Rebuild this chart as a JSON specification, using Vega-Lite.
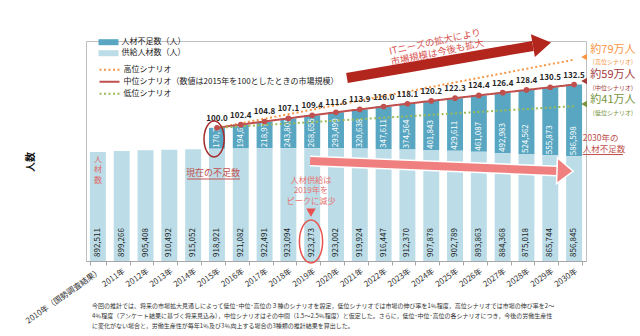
{
  "$schema": "https://vega.github.io/schema/vega-lite/v6.json",
  "width": 500,
  "height": 220,
  "autosize": {"type": "none"},
  "padding": {"left": 86, "top": 41, "right": 54, "bottom": 75},
  "background": "white",
  "title": {
    "text": [
      "今回の推計では、将来の市場拡大見通しによって低位･中位･高位の３種のシナリオを設定，低位シナリオでは市場の伸び率を1％程度，高位シナリオでは市場の伸び率を2～",
      "4％程度（アンケート結果に基づく将来見込み），中位シナリオはその中間（1.5～2.5％程度）と仮定した。さらに，低位･中位･高位の各シナリオにつき，今後の労働生産性",
      "に変化がない場合と，労働生産性が毎年1％及び3％向上する場合の3種類の推計結果を算出した。"
    ],
    "orient": "bottom",
    "anchor": "start",
    "frame": "group",
    "fontSize": 6,
    "fontWeight": "normal",
    "color": "#333333",
    "lineHeight": 10,
    "offset": -22,
    "dx": 6,
    "font": "Noto Sans CJK JP"
  },
  "datasets": {
    "bars": [
      {"年": "2010年（国勢調査結果）", "供給人材数（人）": 892511, "人材不足数（人）": null},
      {"年": "2011年", "供給人材数（人）": 899266, "人材不足数（人）": null},
      {"年": "2012年", "供給人材数（人）": 905408, "人材不足数（人）": null},
      {"年": "2013年", "供給人材数（人）": 910492, "人材不足数（人）": null},
      {"年": "2014年", "供給人材数（人）": 915052, "人材不足数（人）": null},
      {"年": "2015年", "供給人材数（人）": 918921, "人材不足数（人）": 170700},
      {"年": "2016年", "供給人材数（人）": 921082, "人材不足数（人）": 194608},
      {"年": "2017年", "供給人材数（人）": 922491, "人材不足数（人）": 218976},
      {"年": "2018年", "供給人材数（人）": 923094, "人材不足数（人）": 243805},
      {"年": "2019年", "供給人材数（人）": 923273, "人材不足数（人）": 268655},
      {"年": "2020年", "供給人材数（人）": 923002, "人材不足数（人）": 293499},
      {"年": "2021年", "供給人材数（人）": 919924, "人材不足数（人）": 320638},
      {"年": "2022年", "供給人材数（人）": 916447, "人材不足数（人）": 347611},
      {"年": "2023年", "供給人材数（人）": 912370, "人材不足数（人）": 374564},
      {"年": "2024年", "供給人材数（人）": 907878, "人材不足数（人）": 401843},
      {"年": "2025年", "供給人材数（人）": 902789, "人材不足数（人）": 429611},
      {"年": "2026年", "供給人材数（人）": 893863, "人材不足数（人）": 461087},
      {"年": "2027年", "供給人材数（人）": 884368, "人材不足数（人）": 492983},
      {"年": "2028年", "供給人材数（人）": 875018, "人材不足数（人）": 524562},
      {"年": "2029年", "供給人材数（人）": 865744, "人材不足数（人）": 555873},
      {"年": "2030年", "供給人材数（人）": 856845, "人材不足数（人）": 586598}
    ],
    "lines": [
      {"年": "2015年", "シナリオ": "高位シナリオ", "需要": 1089621},
      {"年": "2030年", "シナリオ": "高位シナリオ", "需要": 1646845},
      {"年": "2015年", "シナリオ": "中位シナリオ（数値は2015年を100としたときの市場規模）", "需要": 1089621, "指数": 100.0},
      {"年": "2016年", "シナリオ": "中位シナリオ（数値は2015年を100としたときの市場規模）", "需要": 1115690, "指数": 102.4},
      {"年": "2017年", "シナリオ": "中位シナリオ（数値は2015年を100としたときの市場規模）", "需要": 1141467, "指数": 104.8},
      {"年": "2018年", "シナリオ": "中位シナリオ（数値は2015年を100としたときの市場規模）", "需要": 1166899, "指数": 107.1},
      {"年": "2019年", "シナリオ": "中位シナリオ（数値は2015年を100としたときの市場規模）", "需要": 1191928, "指数": 109.4},
      {"年": "2020年", "シナリオ": "中位シナリオ（数値は2015年を100としたときの市場規模）", "需要": 1216501, "指数": 111.6},
      {"年": "2021年", "シナリオ": "中位シナリオ（数値は2015年を100としたときの市場規模）", "需要": 1240562, "指数": 113.9},
      {"年": "2022年", "シナリオ": "中位シナリオ（数値は2015年を100としたときの市場規模）", "需要": 1264058, "指数": 116.0},
      {"年": "2023年", "シナリオ": "中位シナリオ（数値は2015年を100としたときの市場規模）", "需要": 1286934, "指数": 118.1},
      {"年": "2024年", "シナリオ": "中位シナリオ（数値は2015年を100としたときの市場規模）", "需要": 1309721, "指数": 120.2},
      {"年": "2025年", "シナリオ": "中位シナリオ（数値は2015年を100としたときの市場規模）", "需要": 1332400, "指数": 122.3},
      {"年": "2026年", "シナリオ": "中位シナリオ（数値は2015年を100としたときの市場規模）", "需要": 1354950, "指数": 124.4},
      {"年": "2027年", "シナリオ": "中位シナリオ（数値は2015年を100としたときの市場規模）", "需要": 1377351, "指数": 126.4},
      {"年": "2028年", "シナリオ": "中位シナリオ（数値は2015年を100としたときの市場規模）", "需要": 1399580, "指数": 128.4},
      {"年": "2029年", "シナリオ": "中位シナリオ（数値は2015年を100としたときの市場規模）", "需要": 1421617, "指数": 130.5},
      {"年": "2030年", "シナリオ": "中位シナリオ（数値は2015年を100としたときの市場規模）", "需要": 1443443, "指数": 132.5},
      {"年": "2015年", "シナリオ": "低位シナリオ", "需要": 1089621},
      {"年": "2030年", "シナリオ": "低位シナリオ", "需要": 1266845}
    ],
    "yTitle": [{"xq": 2007.2, "yq": 810000, "t": "人数"}],
    "arrowRed": [{"xq": 2020.46, "yq": 1497300}, {"xq": 2028.27, "yq": 1759100}],
    "arrowRedHead": [{"xq": 2028.65, "yq": 1775500}],
    "arrowRedText": [{"xq": 2024.16, "yq": 1791800, "t": "ITニーズの拡大により\n市場規模は今後も拡大"}],
    "arrowPink": [{"xq": 2018.91, "yq": 818200}, {"xq": 2029.28, "yq": 736400}],
    "arrowPinkHead": [{"xq": 2029.62, "yq": 736400}],
    "ellipse2015": [{"xq": 2014.88, "yq": 998200}],
    "ellipse2019": [{"xq": 2018.95, "yq": 159500}],
    "triDown": [{"xq": 2018.95, "yq": 396000}],
    "noteNow": [{"xq": 2014.83, "yq": 720000, "t": "現在の不足数"}],
    "underlineNow": [{"xq": 2013.74, "xq2": 2015.97, "yq": 670900}],
    "noteSupplyV": [{"xq": 2010.0, "yq": 826400, "t": "人\n材\n数"}],
    "notePeak": [{"xq": 2018.95, "yq": 656000, "t": "人材供給は\n2019年を\nピークに減少"}],
    "note2030": [{"xq": 2030.36, "yq": 1006400, "t": "2030年の\n人材不足数"}],
    "underline2030": [{"xq": 2030.36, "xq2": 2032.05, "yq": 871000}],
    "scenBig": [
      {"xq": 2031.63, "yq": 1726400, "t": "約79万人", "s": "高位"},
      {"xq": 2031.63, "yq": 1521800, "t": "約59万人", "s": "中位"},
      {"xq": 2031.63, "yq": 1317300, "t": "約41万人", "s": "低位"}
    ],
    "scenSmall": [
      {"xq": 2031.63, "yq": 1624100, "t": "(高位シナリオ)", "s": "高位"},
      {"xq": 2031.63, "yq": 1419500, "t": "(中位シナリオ)", "s": "中位"},
      {"xq": 2031.63, "yq": 1215000, "t": "(低位シナリオ)", "s": "低位"}
    ],
    "scenTri": [
      {"xq": 2030.42, "yq": 1669100, "s": "高位"},
      {"xq": 2030.42, "yq": 1472700, "s": "中位"},
      {"xq": 2030.42, "yq": 1284500, "s": "低位"}
    ]
  },
  "resolve": {"scale": {"x": "independent", "color": "independent"}},
  "layer": [
    {
      "layer": [
        {
          "data": {"name": "bars"},
          "transform": [{"fold": ["人材不足数（人）", "供給人材数（人）"], "as": ["系列", "人数"]}],
          "mark": {"type": "bar"},
          "encoding": {
            "x": {
              "field": "年", "type": "nominal", "title": null,
              "scale": {
                "domain": ["2010年（国勢調査結果）", "2011年", "2012年", "2013年", "2014年", "2015年", "2016年", "2017年", "2018年", "2019年", "2020年", "2021年", "2022年", "2023年", "2024年", "2025年", "2026年", "2027年", "2028年", "2029年", "2030年"],
                "paddingInner": 0.33, "paddingOuter": 0.165
              },
              "axis": {
                "labelAngle": -35, "labelAlign": "right", "labelBaseline": "top",
                "labelFontSize": 8, "labelColor": "#333333", "labelPadding": 2,
                "tickBand": "extent", "tickColor": "#a6a6a6", "tickSize": 4,
                "domainColor": "#a6a6a6", "grid": false, "labelLimit": 300
              }
            },
            "y": {
              "field": "人数", "type": "quantitative", "stack": "zero", "title": null,
              "scale": {"domain": [0, 1800000], "nice": false},
              "axis": {
                "title": null,
                "values": [0, 200000, 400000, 600000, 800000, 1000000, 1200000, 1400000, 1600000, 1800000],
                "format": ",", "labelFontSize": 8, "labelColor": "#404040",
                "domainColor": "#a6a6a6", "tickColor": "#a6a6a6", "tickSize": 4,
                "gridColor": "#d9d9d9"
              }
            },
            "color": {
              "field": "系列", "type": "nominal",
              "scale": {"domain": ["人材不足数（人）", "供給人材数（人）"], "range": ["#58a6c1", "#bcdde7"]},
              "legend": {
                "orient": "none", "legendX": 17.5, "legendY": -3.8, "title": null,
                "symbolType": "M-2,-0.6H2V0.6H-2Z", "symbolSize": 100, "symbolStrokeWidth": 0,
                "labelFontSize": 8, "labelColor": "#222222", "labelLimit": 400,
                "padding": 0, "rowPadding": 2, "labelOffset": 8
              }
            },
            "order": {"field": "系列", "sort": "descending"}
          }
        },
        {
          "data": {"name": "bars"},
          "mark": {"type": "text", "angle": -90, "align": "left", "baseline": "middle", "dx": 4, "fontSize": 8, "color": "#222222"},
          "encoding": {
            "x": {"field": "年", "type": "nominal", "title": null},
            "y": {"datum": 0, "type": "quantitative", "title": null},
            "text": {"field": "供給人材数（人）", "type": "quantitative", "format": ","}
          }
        },
        {
          "data": {"name": "bars"},
          "transform": [{"filter": {"field": "人材不足数（人）", "valid": true}}],
          "mark": {"type": "text", "angle": -90, "align": "left", "baseline": "middle", "dx": 1, "fontSize": 8, "color": "white"},
          "encoding": {
            "x": {"field": "年", "type": "nominal", "title": null},
            "y": {"field": "供給人材数（人）", "type": "quantitative", "title": null},
            "text": {"field": "人材不足数（人）", "type": "quantitative", "format": ","}
          }
        },
        {
          "data": {"name": "lines"},
          "mark": {"type": "line", "strokeWidth": 2, "strokeCap": "butt"},
          "encoding": {
            "x": {"field": "年", "type": "nominal", "title": null},
            "y": {"field": "需要", "type": "quantitative", "title": null},
            "stroke": {
              "field": "シナリオ", "type": "nominal",
              "scale": {"domain": ["高位シナリオ", "中位シナリオ（数値は2015年を100としたときの市場規模）", "低位シナリオ"], "range": ["#f79646", "#c0504d", "#9bbb59"]},
              "legend": {
                "orient": "none", "legendX": 17.5, "legendY": 22.8, "title": null,
                "symbolType": "M-2,0H2", "symbolSize": 100, "symbolStrokeWidth": 2,
                "labelFontSize": 8, "labelColor": "#222222", "labelLimit": 400,
                "padding": 0, "rowPadding": 2, "labelOffset": 8
              }
            },
            "strokeDash": {
              "field": "シナリオ", "type": "nominal",
              "scale": {"domain": ["高位シナリオ", "中位シナリオ（数値は2015年を100としたときの市場規模）", "低位シナリオ"], "range": [[2, 2.5], [1, 0], [2, 2.5]]},
              "legend": {
                "orient": "none", "legendX": 17.5, "legendY": 22.8, "title": null,
                "symbolType": "M-2,0H2", "symbolSize": 100, "symbolStrokeWidth": 2,
                "labelFontSize": 8, "labelColor": "#222222", "labelLimit": 400,
                "padding": 0, "rowPadding": 2, "labelOffset": 8
              }
            }
          }
        },
        {
          "data": {"name": "lines"},
          "transform": [{"filter": {"field": "指数", "valid": true}}],
          "mark": {"type": "point", "filled": true, "size": 32, "color": "#c0504d", "opacity": 1},
          "encoding": {
            "x": {"field": "年", "type": "nominal", "title": null},
            "y": {"field": "需要", "type": "quantitative", "title": null}
          }
        },
        {
          "data": {"name": "lines"},
          "transform": [{"filter": {"field": "指数", "valid": true}}],
          "mark": {"type": "text", "dy": -9, "fontSize": 8, "fontWeight": "bold", "color": "#262626"},
          "encoding": {
            "x": {"field": "年", "type": "nominal", "title": null},
            "y": {"field": "需要", "type": "quantitative", "title": null},
            "text": {"field": "指数", "type": "quantitative", "format": ".1f"}
          }
        }
      ]
    },
    {
      "encoding": {
        "x": {"field": "xq", "type": "quantitative", "scale": {"domain": [2009.5, 2030.5], "nice": false, "zero": false}, "axis": null},
        "y": {"field": "yq", "type": "quantitative", "scale": {"domain": [0, 1800000], "nice": false}, "axis": null}
      },
      "layer": [
        {
          "data": {"name": "yTitle"},
          "mark": {"type": "text", "angle": -90, "fontSize": 10, "fontWeight": "bold", "color": "#111111", "align": "center", "baseline": "middle"},
          "encoding": {"text": {"field": "t"}}
        },
        {
          "data": {"name": "arrowPink"},
          "mark": {"type": "line", "stroke": "white", "strokeWidth": 11, "strokeCap": "butt"},
          "encoding": {}
        },
        {
          "data": {"name": "arrowPink"},
          "mark": {"type": "line", "stroke": "#f08080", "strokeWidth": 8, "strokeCap": "butt"},
          "encoding": {}
        },
        {
          "data": {"name": "arrowPinkHead"},
          "mark": {"type": "point", "shape": "M-0.62,-1L0.62,0L-0.62,1Z", "size": 676, "filled": true, "fill": "#f08080", "stroke": "white", "strokeWidth": 1.5, "opacity": 1, "angle": 2}
        },
        {
          "data": {"name": "arrowRed"},
          "mark": {"type": "line", "stroke": "#b3261e", "strokeWidth": 10, "strokeCap": "butt"},
          "encoding": {}
        },
        {
          "data": {"name": "arrowRedHead"},
          "mark": {"type": "point", "shape": "M-0.8,-1L0.8,0L-0.8,1Z", "size": 529, "filled": true, "fill": "#b3261e", "opacity": 1, "angle": -10}
        },
        {
          "data": {"name": "arrowRedText"},
          "mark": {"type": "text", "angle": -12, "fontSize": 9.5, "lineHeight": 11, "lineBreak": "\n", "color": "#d9534f", "align": "center", "baseline": "middle"},
          "encoding": {"text": {"field": "t"}}
        },
        {
          "data": {"name": "ellipse2015"},
          "mark": {"type": "point", "shape": "M0,-1A0.56,1 0 1,1 0,1A0.56,1 0 1,1 0,-1Z", "size": 1296, "filled": false, "stroke": "#a52a2a", "strokeWidth": 1.5, "opacity": 1}
        },
        {
          "data": {"name": "ellipse2019"},
          "mark": {"type": "point", "shape": "M0,-1A0.54,1 0 1,1 0,1A0.54,1 0 1,1 0,-1Z", "size": 1849, "filled": false, "stroke": "#e8534f", "strokeWidth": 1.5, "opacity": 1}
        },
        {
          "data": {"name": "triDown"},
          "mark": {"type": "point", "shape": "triangle-down", "size": 90, "filled": true, "fill": "#e8534f", "opacity": 1}
        },
        {
          "data": {"name": "noteNow"},
          "mark": {"type": "text", "fontSize": 9, "color": "#c0504d", "align": "center", "baseline": "middle"},
          "encoding": {"text": {"field": "t"}}
        },
        {
          "data": {"name": "underlineNow"},
          "mark": {"type": "rule", "stroke": "#c0504d", "strokeWidth": 1},
          "encoding": {"x2": {"field": "xq2"}}
        },
        {
          "data": {"name": "noteSupplyV"},
          "mark": {"type": "text", "fontSize": 8, "lineHeight": 10.5, "lineBreak": "\n", "color": "#e06666", "align": "center", "baseline": "middle"},
          "encoding": {"text": {"field": "t"}}
        },
        {
          "data": {"name": "notePeak"},
          "mark": {"type": "text", "fontSize": 8.2, "lineHeight": 10.5, "lineBreak": "\n", "color": "#e87272", "align": "center", "baseline": "middle"},
          "encoding": {"text": {"field": "t"}}
        },
        {
          "data": {"name": "note2030"},
          "mark": {"type": "text", "fontSize": 8.5, "lineHeight": 11.5, "lineBreak": "\n", "color": "#c0504d", "align": "left", "baseline": "middle"},
          "encoding": {"text": {"field": "t"}}
        },
        {
          "data": {"name": "underline2030"},
          "mark": {"type": "rule", "stroke": "#c0504d", "strokeWidth": 1},
          "encoding": {"x2": {"field": "xq2"}}
        },
        {
          "data": {"name": "scenBig"},
          "mark": {"type": "text", "fontSize": 11, "align": "center", "baseline": "middle"},
          "encoding": {
            "text": {"field": "t"},
            "color": {"field": "s", "type": "nominal", "scale": {"domain": ["高位", "中位", "低位"], "range": ["#f79646", "#a23b3b", "#77933c"]}, "legend": null}
          }
        },
        {
          "data": {"name": "scenSmall"},
          "mark": {"type": "text", "fontSize": 6, "align": "center", "baseline": "middle"},
          "encoding": {
            "text": {"field": "t"},
            "color": {"field": "s", "type": "nominal", "scale": {"domain": ["高位", "中位", "低位"], "range": ["#f79646", "#a23b3b", "#77933c"]}, "legend": null}
          }
        },
        {
          "data": {"name": "scenTri"},
          "mark": {"type": "point", "shape": "triangle-left", "size": 45, "filled": true, "opacity": 1},
          "encoding": {
            "color": {"field": "s", "type": "nominal", "scale": {"domain": ["高位", "中位", "低位"], "range": ["#f79646", "#a23b3b", "#77933c"]}, "legend": null}
          }
        }
      ]
    }
  ],
  "config": {
    "font": "Noto Sans CJK JP",
    "view": {"stroke": "#bfbfbf", "strokeWidth": 1}
  }
}
